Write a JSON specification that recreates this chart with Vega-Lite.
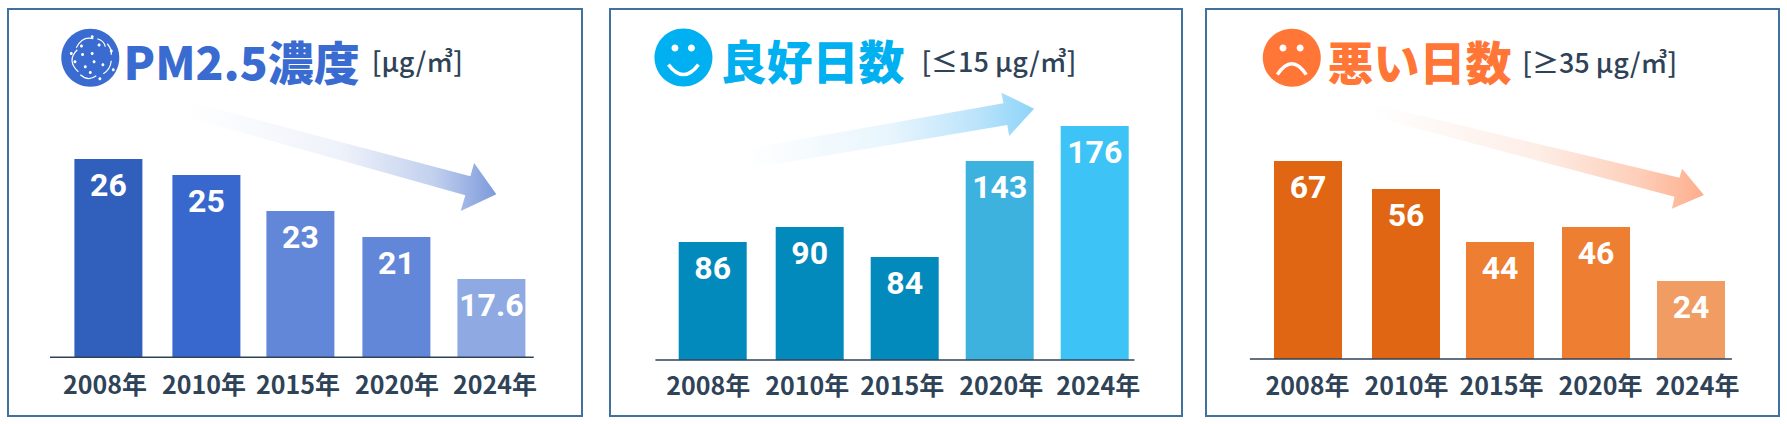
{"$schema":"https://vega.github.io/schema/vega-lite/v6.json","background":"white","padding":{"left":7,"top":8,"right":0,"bottom":0},"spacing":22,"resolve":{"scale":{"color":"independent"}},"hconcat":[{"spacing":26,"resolve":{"scale":{"color":"independent"}},"hconcat":[
{"width":574,"height":407,"view":{"stroke":"#41729F","strokeWidth":2,"fill":"white"},"layer":[
{"data":{"values":[{"year":2008,"value":26},{"year":2010,"value":25},{"year":2015,"value":23},{"year":2020,"value":21},{"year":2024,"value":17.6}]},"mark":{"type":"bar","width":68,"orient":"vertical"},"encoding":{"x":{"field":"year","type":"quantitative","scale":{"nice":false,"zero":false,"domain":[2004,2008,2010,2015,2020,2024,2028],"range":[0,100.4,198.4,292.4,388.4,483.4,574]},"axis":{"values":[2008,2010,2015,2020,2024],"labelExpr":"datum.value+'年'","title":null,"grid":false,"domain":false,"ticks":false,"offset":-58,"labelPadding":27,"labelBaseline":"middle","labelFont":"Noto Sans CJK JP","labelFontSize":25,"labelFontWeight":"bold","labelColor":"#2F4358","labelOverlap":false,"labelFlush":false,"labelOffset":{"condition":[{"test":"datum.value==2008","value":-4},{"test":"datum.value==2010","value":-3},{"test":"datum.value==2015","value":-3},{"test":"datum.value==2024","value":3}],"value":0}}},"y":{"field":"value","type":"quantitative","scale":{"nice":false,"zero":false,"domain":[-10,0,17.6,21,23,25,26,36],"range":[407,348.3,270,228,202,166,150,0]},"axis":null},"y2":{"datum":0},"color":{"field":"year","type":"ordinal","legend":null,"scale":{"domain":[2008,2010,2015,2020,2024],"range":["#315FBC","#3868CE","#6287D8","#6287D8","#8FAAE3"]}}}},
{"data":{"values":[{"year":2008,"value":26},{"year":2010,"value":25},{"year":2015,"value":23},{"year":2020,"value":21},{"year":2024,"value":17.6}]},"mark":{"type":"text","font":"Roboto","fontWeight":"bold","fontSize":32,"color":"white","baseline":"middle","dy":27},"encoding":{"x":{"field":"year","type":"quantitative"},"y":{"field":"value","type":"quantitative","axis":null},"text":{"field":"value","type":"quantitative"}}},
{"data":{"values":[{}]},"mark":{"type":"rule","color":"#2F4358","strokeWidth":1.5},"encoding":{"x":{"datum":2005.55,"type":"quantitative"},"x2":{"datum":2025.97},"y":{"datum":0,"type":"quantitative","axis":null}}},
{"data":{"values":[{}]},"mark":{"type":"point","filled":true,"opacity":1,"size":4,"shape":"M-150 -55L130 19.3L133.8 6L156 37.3L120.4 54L125 38.3L-154 -40Z","fill":{"gradient":"linear","x1":0,"y1":0,"x2":1,"y2":0,"stops":[{"offset":0,"color":"#FFFFFF"},{"offset":0.5,"color":"#EEF2FA"},{"offset":0.8,"color":"#C2D0EE"},{"offset":1,"color":"#7C9ADB"}]}},"encoding":{"x":{"datum":2017.08,"type":"quantitative"},"y":{"datum":26.13,"type":"quantitative","axis":null}}},
{"data":{"values":[{}]},"mark":{"type":"point","filled":true,"opacity":1,"size":4,"color":"#3A6BD0","shape":"M-29 0A29 29 0 1 0 29 0A29 29 0 1 0 -29 0Z"},"encoding":{"x":{"datum":2007.24,"type":"quantitative"},"y":{"datum":32.75,"type":"quantitative","axis":null}}},
{"data":{"values":[{}]},"mark":{"type":"point","filled":true,"opacity":1,"size":4,"color":"white","shape":"M0.4 -21a1.5 1.5 0 1 0 3 0a1.5 1.5 0 1 0 -3 0ZM-10.3 -11.7a1.5 1.5 0 1 0 3 0a1.5 1.5 0 1 0 -3 0ZM0.4 -4.3a1.5 1.5 0 1 0 3 0a1.5 1.5 0 1 0 -3 0ZM7.3 -12.7a1.5 1.5 0 1 0 3 0a1.5 1.5 0 1 0 -3 0ZM-9.2 -3.3a1.5 1.5 0 1 0 3 0a1.5 1.5 0 1 0 -3 0ZM-16.8 4a1.5 1.5 0 1 0 3 0a1.5 1.5 0 1 0 -3 0ZM-6.5 9a1.5 1.5 0 1 0 3 0a1.5 1.5 0 1 0 -3 0ZM2.3 4a1.5 1.5 0 1 0 3 0a1.5 1.5 0 1 0 -3 0ZM11.1 7a1.5 1.5 0 1 0 3 0a1.5 1.5 0 1 0 -3 0ZM-1.5 14.7a1.5 1.5 0 1 0 3 0a1.5 1.5 0 1 0 -3 0ZM8.1 21a1.5 1.5 0 1 0 3 0a1.5 1.5 0 1 0 -3 0ZM-20.5 -4.3a1.5 1.5 0 1 0 3 0a1.5 1.5 0 1 0 -3 0ZM19.5 -6.7a1.5 1.5 0 1 0 3 0a1.5 1.5 0 1 0 -3 0ZM21.5 12a1.5 1.5 0 1 0 3 0a1.5 1.5 0 1 0 -3 0Z"},"encoding":{"x":{"datum":2007.24,"type":"quantitative"},"y":{"datum":32.75,"type":"quantitative","axis":null}}},
{"data":{"values":[{}]},"mark":{"type":"point","filled":false,"opacity":1,"size":4,"color":"white","strokeWidth":1.2,"shape":"M-14 -10Q-8 -22 3 -19M-13 -8Q-24 3 -12 14M-10 17Q-2 24 6 18M17 -14Q22 -8 21 -3M21 3Q20 12 13 16M7 -19Q14 -17 15 -11"},"encoding":{"x":{"datum":2007.24,"type":"quantitative"},"y":{"datum":32.75,"type":"quantitative","axis":null}}},
{"data":{"values":[{"t":"PM2.5濃度"}]},"mark":{"type":"text","font":"Noto Sans CJK JP","align":"left","baseline":"alphabetic","fontSize":46,"fontWeight":900,"color":"#3A6BD0"},"encoding":{"x":{"datum":2008.31,"type":"quantitative"},"y":{"datum":31.29,"type":"quantitative","axis":null},"text":{"field":"t"}}},
{"data":{"values":[{"t":"[μg/㎥]"}]},"mark":{"type":"text","font":"Noto Sans CJK JP","align":"left","baseline":"alphabetic","fontSize":27,"fontWeight":500,"color":"#2F4358"},"encoding":{"x":{"datum":2018.72,"type":"quantitative"},"y":{"datum":31.77,"type":"quantitative","axis":null},"text":{"field":"t"}}}
]},
{"width":572,"height":407,"view":{"stroke":"#41729F","strokeWidth":2,"fill":"white"},"layer":[
{"data":{"values":[{"year":2008,"value":86},{"year":2010,"value":90},{"year":2015,"value":84},{"year":2020,"value":143},{"year":2024,"value":176}]},"mark":{"type":"bar","width":68,"orient":"vertical"},"encoding":{"x":{"field":"year","type":"quantitative","scale":{"nice":false,"zero":false,"domain":[2004,2008,2010,2015,2020,2024,2028],"range":[0,102.7,199.7,294.7,389.7,484.7,572]},"axis":{"values":[2008,2010,2015,2020,2024],"labelExpr":"datum.value+'年'","title":null,"grid":false,"domain":false,"ticks":false,"offset":-55,"labelPadding":25,"labelBaseline":"middle","labelFont":"Noto Sans CJK JP","labelFontSize":25,"labelFontWeight":"bold","labelColor":"#2F4358","labelOverlap":false,"labelFlush":false,"labelOffset":{"condition":[{"test":"datum.value==2008","value":-5},{"test":"datum.value==2010","value":-3},{"test":"datum.value==2015","value":-3},{"test":"datum.value==2024","value":3}],"value":1}}},"y":{"field":"value","type":"quantitative","scale":{"nice":false,"zero":false,"domain":[-10,0,84,86,90,143,176,287],"range":[407,351,248,233,218,152,117,0]},"axis":null},"y2":{"datum":0},"color":{"field":"year","type":"ordinal","legend":null,"scale":{"domain":[2008,2010,2015,2020,2024],"range":["#028ABC","#028ABC","#028ABC","#3DB2DF","#3DC3F6"]}}}},
{"data":{"values":[{"year":2008,"value":86},{"year":2010,"value":90},{"year":2015,"value":84},{"year":2020,"value":143},{"year":2024,"value":176}]},"mark":{"type":"text","font":"Roboto","fontWeight":"bold","fontSize":32,"color":"white","baseline":"middle","dy":27},"encoding":{"x":{"field":"year","type":"quantitative"},"y":{"field":"value","type":"quantitative","axis":null},"text":{"field":"value","type":"quantitative"}}},
{"data":{"values":[{}]},"mark":{"type":"rule","color":"#2F4358","strokeWidth":1.5},"encoding":{"x":{"datum":2005.65,"type":"quantitative"},"x2":{"datum":2025.92},"y":{"datum":0,"type":"quantitative","axis":null}}},
{"data":{"values":[{}]},"mark":{"type":"point","filled":true,"opacity":1,"size":4,"shape":"M-137 16.7L113.7 -27.7L111.8 -38.3L144.4 -22.3L119.5 5L117.6 -6L-144.6 38.3Z","fill":{"gradient":"linear","x1":0,"y1":0,"x2":1,"y2":0,"stops":[{"offset":0,"color":"#FFFFFF"},{"offset":0.5,"color":"#E8F5FD"},{"offset":0.8,"color":"#BCE4FB"},{"offset":1,"color":"#8CD4F8"}]}},"encoding":{"x":{"datum":2014.21,"type":"quantitative"},"y":{"datum":171.3,"type":"quantitative","axis":null}}},
{"data":{"values":[{}]},"mark":{"type":"point","filled":true,"opacity":1,"size":4,"color":"#00B0F0","shape":"M-29 0A29 29 0 1 0 29 0A29 29 0 1 0 -29 0Z"},"encoding":{"x":{"datum":2006.8,"type":"quantitative"},"y":{"datum":240.9,"type":"quantitative","axis":null}}},
{"data":{"values":[{}]},"mark":{"type":"point","filled":true,"opacity":1,"size":4,"color":"white","shape":"M-12 -9.7a3.5 3.5 0 1 0 7 0a3.5 3.5 0 1 0 -7 0ZM4.5 -9.7a3.5 3.5 0 1 0 7 0a3.5 3.5 0 1 0 -7 0Z"},"encoding":{"x":{"datum":2006.8,"type":"quantitative"},"y":{"datum":240.9,"type":"quantitative","axis":null}}},
{"data":{"values":[{}]},"mark":{"type":"point","filled":false,"opacity":1,"size":4,"color":"white","strokeWidth":3.5,"shape":"M-15 7Q0 27 15 7"},"encoding":{"x":{"datum":2006.8,"type":"quantitative"},"y":{"datum":240.9,"type":"quantitative","axis":null}}},
{"data":{"values":[{"t":"良好日数"}]},"mark":{"type":"text","font":"Noto Sans CJK JP","align":"left","baseline":"alphabetic","fontSize":46,"fontWeight":900,"color":"#00B0F0"},"encoding":{"x":{"datum":2008.16,"type":"quantitative"},"y":{"datum":220.2,"type":"quantitative","axis":null},"text":{"field":"t"}}},
{"data":{"values":[{"t":"[≤15 μg/㎥]"}]},"mark":{"type":"text","font":"Noto Sans CJK JP","align":"left","baseline":"alphabetic","fontSize":27,"fontWeight":500,"color":"#2F4358"},"encoding":{"x":{"datum":2015.88,"type":"quantitative"},"y":{"datum":226.8,"type":"quantitative","axis":null},"text":{"field":"t"}}}
]}]},
{"width":573,"height":407,"view":{"stroke":"#41729F","strokeWidth":2,"fill":"white"},"layer":[
{"data":{"values":[{"year":2008,"value":67},{"year":2010,"value":56},{"year":2015,"value":44},{"year":2020,"value":46},{"year":2024,"value":24}]},"mark":{"type":"bar","width":68,"orient":"vertical"},"encoding":{"x":{"field":"year","type":"quantitative","scale":{"nice":false,"zero":false,"domain":[2004,2008,2010,2015,2020,2024,2028],"range":[0,102,200,294,390,485,573]},"axis":{"values":[2008,2010,2015,2020,2024],"labelExpr":"datum.value+'年'","title":null,"grid":false,"domain":false,"ticks":false,"offset":-56,"labelPadding":26,"labelBaseline":"middle","labelFont":"Noto Sans CJK JP","labelFontSize":25,"labelFontWeight":"bold","labelColor":"#2F4358","labelOverlap":false,"labelFlush":false,"labelOffset":{"condition":[{"test":"datum.value==2008","value":-1},{"test":"datum.value==2010","value":0},{"test":"datum.value==2015","value":1},{"test":"datum.value==2024","value":6}],"value":4}}},"y":{"field":"value","type":"quantitative","scale":{"nice":false,"zero":false,"domain":[-10,0,24,44,46,56,67,127],"range":[407,350,272,233,218,180,152,0]},"axis":null},"y2":{"datum":0},"color":{"field":"year","type":"ordinal","legend":null,"scale":{"domain":[2008,2010,2015,2020,2024],"range":["#E06614","#E06614","#EE7E32","#EE7E32","#F19C62"]}}}},
{"data":{"values":[{"year":2008,"value":67},{"year":2010,"value":56},{"year":2015,"value":44},{"year":2020,"value":46},{"year":2024,"value":24}]},"mark":{"type":"text","font":"Roboto","fontWeight":"bold","fontSize":32,"color":"white","baseline":"middle","dy":27},"encoding":{"x":{"field":"year","type":"quantitative"},"y":{"field":"value","type":"quantitative","axis":null},"text":{"field":"value","type":"quantitative"}}},
{"data":{"values":[{}]},"mark":{"type":"rule","color":"#2F4358","strokeWidth":1.5},"encoding":{"x":{"datum":2005.6,"type":"quantitative"},"x2":{"datum":2025.96},"y":{"datum":0,"type":"quantitative","axis":null}}},
{"data":{"values":[{}]},"mark":{"type":"point","filled":true,"opacity":1,"size":4,"shape":"M-157.2 -51.7L148.6 21.7L151.2 12.7L173 39L141 52.7L143.6 40.7L-161 -40Z","fill":{"gradient":"linear","x1":0,"y1":0,"x2":1,"y2":0,"stops":[{"offset":0,"color":"#FFFFFF"},{"offset":0.5,"color":"#FDEEE7"},{"offset":0.8,"color":"#FECFBA"},{"offset":1,"color":"#FDAE8C"}]}},"encoding":{"x":{"datum":2016.61,"type":"quantitative"},"y":{"datum":68.95,"type":"quantitative","axis":null}}},
{"data":{"values":[{}]},"mark":{"type":"point","filled":true,"opacity":1,"size":4,"color":"#FF7637","shape":"M-29 0A29 29 0 1 0 29 0A29 29 0 1 0 -29 0Z"},"encoding":{"x":{"datum":2007.33,"type":"quantitative"},"y":{"datum":107.8,"type":"quantitative","axis":null}}},
{"data":{"values":[{}]},"mark":{"type":"point","filled":true,"opacity":1,"size":4,"color":"white","shape":"M-12.3 -9.7a3.5 3.5 0 1 0 7 0a3.5 3.5 0 1 0 -7 0ZM4.9 -9.7a3.5 3.5 0 1 0 7 0a3.5 3.5 0 1 0 -7 0Z"},"encoding":{"x":{"datum":2007.33,"type":"quantitative"},"y":{"datum":107.8,"type":"quantitative","axis":null}}},
{"data":{"values":[{}]},"mark":{"type":"point","filled":false,"opacity":1,"size":4,"color":"white","strokeWidth":3.5,"shape":"M-14.5 17Q0 -5 14.5 17"},"encoding":{"x":{"datum":2007.33,"type":"quantitative"},"y":{"datum":107.8,"type":"quantitative","axis":null}}},
{"data":{"values":[{"t":"悪い日数"}]},"mark":{"type":"text","font":"Noto Sans CJK JP","align":"left","baseline":"alphabetic","fontSize":46,"fontWeight":900,"color":"#FF7637"},"encoding":{"x":{"datum":2008.4,"type":"quantitative"},"y":{"datum":99.15,"type":"quantitative","axis":null},"text":{"field":"t"}}},
{"data":{"values":[{"t":"[≥35 μg/㎥]"}]},"mark":{"type":"text","font":"Noto Sans CJK JP","align":"left","baseline":"alphabetic","fontSize":27,"fontWeight":500,"color":"#2F4358"},"encoding":{"x":{"datum":2016.16,"type":"quantitative"},"y":{"datum":101.9,"type":"quantitative","axis":null},"text":{"field":"t"}}}
]}]}
